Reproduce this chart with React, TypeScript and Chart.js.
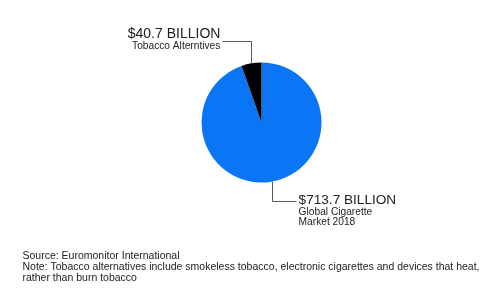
import React, { useEffect, useRef } from "react";
import { Chart, registerables } from "chart.js";

Chart.register(...registerables);

const categories = ["Global Cigarette Market 2018", "Tobacco Alterntives"];
const values = [713.7, 40.7];
const valueLabels = ["$713.7 BILLION", "$40.7 BILLION"];
const subLabels = [["Global Cigarette", "Market 2018"], ["Tobacco Alterntives"]];
const colors = ["#0a75f5", "#000000"];
const footerLines = [
  "Source: Euromonitor International",
  "Note: Tobacco alternatives include smokeless tobacco, electronic cigarettes and devices that heat,",
  "rather than burn tobacco",
];

const FONT = '"Liberation Sans", Arial, Helvetica, sans-serif';

// label layout: horizontal leader y, side, gap
const labelLayout = [
  { lineY: 201, side: "right", lineLen: 25, bigSize: 13.6 },
  { lineY: 41, side: "left", lineLen: 29, bigSize: 14 },
];

const labelPlugin = {
  id: "leaderLabels",
  afterDraw(chart: any) {
    const ctx = chart.ctx;
    const meta = chart.getDatasetMeta(0);
    ctx.save();
    meta.data.forEach((arc: any, i: number) => {
      const { x, y, startAngle, endAngle, outerRadius } = arc.getProps(
        ["x", "y", "startAngle", "endAngle", "outerRadius"],
        true
      );
      const mid = (startAngle + endAngle) / 2;
      const px = x + Math.cos(mid) * outerRadius;
      const py = y + Math.sin(mid) * outerRadius;
      const lay = labelLayout[i];
      const dir = lay.side === "right" ? 1 : -1;
      const ex = px + dir * lay.lineLen;
      ctx.strokeStyle = "#5a5a5a";
      ctx.lineWidth = 1;
      ctx.beginPath();
      ctx.moveTo(Math.round(px) + 0.5, py);
      ctx.lineTo(Math.round(px) + 0.5, lay.lineY + 0.5);
      ctx.lineTo(ex, lay.lineY + 0.5);
      ctx.stroke();

      const tx = ex + dir * 2;
      ctx.fillStyle = "#222222";
      ctx.textAlign = dir === 1 ? "left" : "right";
      ctx.textBaseline = "alphabetic";
      ctx.font = `${lay.bigSize}px ${FONT}`;
      const bigBase = lay.side === "right" ? lay.lineY + 3 : lay.lineY - 3;
      ctx.fillText(valueLabels[i], tx, bigBase);
      ctx.font = `10.2px ${FONT}`;
      subLabels[i].forEach((s: string, k: number) => {
        ctx.fillText(s, tx, bigBase + 10.5 + k * 10);
      });
    });
    // footer
    ctx.textAlign = "left";
    ctx.fillStyle = "#222222";
    ctx.font = `10.5px ${FONT}`;
    footerLines.forEach((s, k) => {
      ctx.fillText(s, 22.5, 259.3 + k * 10.7);
    });
    ctx.restore();
  },
};

export default function App() {
  const ref = useRef<HTMLCanvasElement>(null);
  useEffect(() => {
    document.body.style.margin = "0";
    const chart = new Chart(ref.current!, {
      type: "pie",
      data: {
        labels: categories,
        datasets: [
          {
            data: values,
            backgroundColor: colors,
            borderWidth: 0,
          },
        ],
      },
      options: {
        animation: false,
        responsive: false,
        layout: { padding: { left: 201.5, right: 178.5, top: 62.5, bottom: 124.5 } },
        plugins: {
          legend: { display: false },
          tooltip: { enabled: false },
        },
      },
      plugins: [labelPlugin],
    });
    return () => chart.destroy();
  }, []);
  return (
    <div style={{ width: 500, height: 307, background: "#fff" }}>
      <canvas ref={ref} width={500} height={307} />
    </div>
  );
}
